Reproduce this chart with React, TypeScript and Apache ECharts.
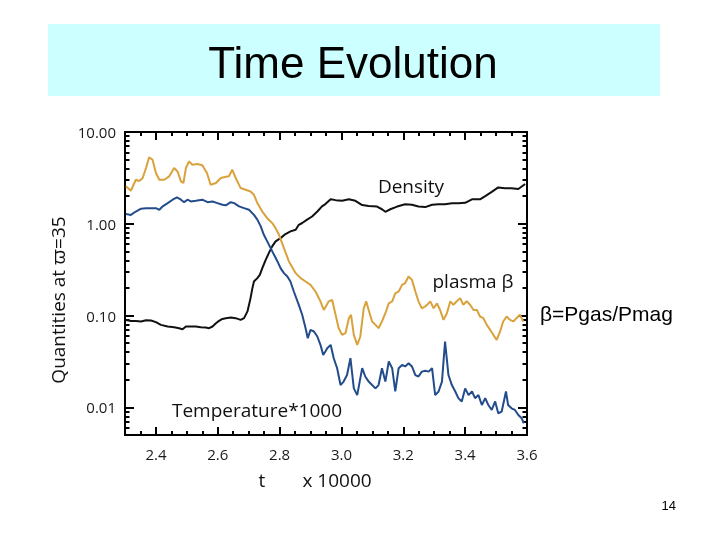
import React, { useEffect, useRef } from 'react';
import * as echarts from 'echarts';

// t in units of 10000
const density: [number, number][] = [
  [2.303, 0.0897], [2.319, 0.0875], [2.335, 0.0875], [2.352, 0.0863], [2.368, 0.0891], [2.384, 0.0885],
  [2.4, 0.0848], [2.416, 0.0792], [2.438, 0.076], [2.459, 0.0747], [2.475, 0.0729], [2.486, 0.0711],
  [2.497, 0.076], [2.513, 0.076], [2.529, 0.076], [2.545, 0.0747], [2.561, 0.0741], [2.572, 0.0729],
  [2.583, 0.076], [2.594, 0.0826], [2.604, 0.0875], [2.615, 0.092], [2.626, 0.0937], [2.642, 0.0953],
  [2.658, 0.0937], [2.674, 0.0897], [2.685, 0.0937], [2.696, 0.111], [2.706, 0.155], [2.712, 0.199],
  [2.717, 0.235], [2.728, 0.256], [2.736, 0.278], [2.744, 0.329], [2.755, 0.405], [2.765, 0.479],
  [2.776, 0.567], [2.787, 0.643], [2.803, 0.698], [2.819, 0.773], [2.835, 0.826], [2.852, 0.861],
  [2.862, 0.975], [2.873, 1.02], [2.889, 1.11], [2.905, 1.2], [2.922, 1.36], [2.937, 1.55],
  [2.948, 1.64], [2.965, 1.85], [2.981, 1.81], [3.002, 1.78], [3.024, 1.85], [3.045, 1.78],
  [3.067, 1.6], [3.088, 1.56], [3.115, 1.54], [3.131, 1.44], [3.142, 1.35], [3.158, 1.44],
  [3.18, 1.54], [3.206, 1.63], [3.228, 1.61], [3.249, 1.54], [3.271, 1.52], [3.293, 1.61],
  [3.314, 1.63], [3.335, 1.63], [3.357, 1.67], [3.378, 1.67], [3.4, 1.69], [3.422, 1.85],
  [3.448, 1.85], [3.465, 2.0], [3.486, 2.23], [3.507, 2.49], [3.529, 2.44], [3.55, 2.44],
  [3.572, 2.39], [3.594, 2.71],
];

const plasmaBeta: [number, number][] = [
  [2.303, 2.56], [2.319, 2.29], [2.335, 3.02], [2.346, 2.92], [2.357, 3.15], [2.368, 4.05],
  [2.378, 5.3], [2.389, 4.99], [2.4, 3.57], [2.411, 3.02], [2.427, 3.02], [2.443, 3.29],
  [2.459, 4.05], [2.47, 3.72], [2.481, 2.9], [2.489, 2.78], [2.497, 4.05], [2.507, 4.79],
  [2.518, 4.4], [2.534, 4.48], [2.55, 4.34], [2.565, 3.57], [2.577, 2.66], [2.594, 2.78],
  [2.61, 3.15], [2.626, 3.25], [2.636, 3.29], [2.647, 3.88], [2.658, 3.15], [2.674, 2.45],
  [2.69, 2.35], [2.706, 2.25], [2.717, 2.07], [2.728, 1.68], [2.744, 1.36], [2.76, 1.15],
  [2.776, 1.02], [2.787, 0.897], [2.798, 0.759], [2.814, 0.543], [2.83, 0.389], [2.852, 0.29],
  [2.868, 0.256], [2.884, 0.235], [2.9, 0.216], [2.916, 0.183], [2.932, 0.143], [2.943, 0.115],
  [2.959, 0.143], [2.97, 0.148], [2.981, 0.102], [2.991, 0.0729], [3.002, 0.0617], [3.013, 0.0643],
  [3.024, 0.0937], [3.031, 0.102], [3.04, 0.0617], [3.051, 0.048], [3.061, 0.0592], [3.072, 0.12],
  [3.08, 0.143], [3.088, 0.115], [3.099, 0.0863], [3.11, 0.0792], [3.12, 0.0729], [3.131, 0.0863],
  [3.142, 0.106], [3.153, 0.136], [3.164, 0.143], [3.174, 0.175], [3.185, 0.183], [3.196, 0.216],
  [3.206, 0.226], [3.217, 0.267], [3.228, 0.245], [3.239, 0.183], [3.249, 0.143], [3.26, 0.12],
  [3.271, 0.126], [3.277, 0.131], [3.287, 0.143], [3.298, 0.12], [3.309, 0.136], [3.319, 0.115],
  [3.33, 0.0897], [3.341, 0.106], [3.352, 0.143], [3.362, 0.131], [3.373, 0.143], [3.384, 0.155],
  [3.394, 0.131], [3.405, 0.143], [3.416, 0.131], [3.427, 0.115], [3.438, 0.115], [3.448, 0.0977],
  [3.459, 0.0937], [3.47, 0.0792], [3.481, 0.0698], [3.491, 0.0617], [3.502, 0.0543], [3.513, 0.0671],
  [3.523, 0.0863], [3.534, 0.0977], [3.545, 0.0897], [3.556, 0.0863], [3.566, 0.0937], [3.577, 0.102],
  [3.588, 0.0863],
];

const temperature: [number, number][] = [
  [2.303, 1.28], [2.319, 1.25], [2.335, 1.36], [2.352, 1.46], [2.368, 1.48], [2.384, 1.48],
  [2.4, 1.48], [2.411, 1.42], [2.422, 1.55], [2.438, 1.68], [2.454, 1.83], [2.468, 1.94],
  [2.481, 1.83], [2.491, 1.72], [2.502, 1.83], [2.513, 1.75], [2.529, 1.78], [2.55, 1.83],
  [2.567, 1.72], [2.583, 1.75], [2.599, 1.68], [2.615, 1.61], [2.626, 1.59], [2.642, 1.72],
  [2.653, 1.68], [2.669, 1.55], [2.685, 1.48], [2.701, 1.42], [2.717, 1.25], [2.728, 1.11],
  [2.739, 0.937], [2.749, 0.759], [2.76, 0.643], [2.771, 0.543], [2.782, 0.459], [2.793, 0.389],
  [2.803, 0.329], [2.814, 0.29], [2.825, 0.267], [2.835, 0.235], [2.846, 0.183], [2.862, 0.131],
  [2.873, 0.102], [2.884, 0.0729], [2.891, 0.0567], [2.9, 0.0698], [2.911, 0.0671], [2.922, 0.0592],
  [2.932, 0.048], [2.941, 0.0373], [2.948, 0.0406], [2.954, 0.0441], [2.965, 0.048], [2.975, 0.0343],
  [2.986, 0.0267], [2.997, 0.0175], [3.007, 0.0191], [3.018, 0.0225], [3.029, 0.0343], [3.04, 0.0161],
  [3.051, 0.0136], [3.059, 0.0191], [3.067, 0.0267], [3.077, 0.0217], [3.088, 0.0191], [3.099, 0.0175],
  [3.11, 0.0161], [3.12, 0.0175], [3.131, 0.0267], [3.142, 0.0191], [3.153, 0.0316], [3.164, 0.0267],
  [3.174, 0.0149], [3.185, 0.0267], [3.196, 0.029], [3.206, 0.0279], [3.217, 0.0303], [3.228, 0.0279],
  [3.239, 0.0225], [3.249, 0.0217], [3.26, 0.0245], [3.271, 0.025], [3.282, 0.0245], [3.293, 0.0267],
  [3.303, 0.0136], [3.314, 0.0149], [3.325, 0.0191], [3.335, 0.0521], [3.346, 0.0225], [3.357, 0.0175],
  [3.368, 0.0149], [3.378, 0.0126], [3.389, 0.0116], [3.4, 0.0161], [3.411, 0.0136], [3.422, 0.0149],
  [3.432, 0.0126], [3.443, 0.0136], [3.454, 0.0106], [3.465, 0.0126], [3.475, 0.0106], [3.486, 0.00937],
  [3.497, 0.0116], [3.507, 0.00863], [3.518, 0.00897], [3.532, 0.0149], [3.539, 0.0106], [3.55, 0.00977],
  [3.561, 0.00937], [3.572, 0.00826], [3.583, 0.0076], [3.59, 0.00671],
];

const xMajorTicks = [2.4, 2.6, 2.8, 3.0, 3.2, 3.4, 3.6];
const xMinorStep = 0.05;
const yMajorTicks = [0.01, 0.1, 1, 10];
const yMinorTicks = [
  0.006, 0.007, 0.008, 0.009,
  0.02, 0.03, 0.04, 0.05, 0.06, 0.07, 0.08, 0.09,
  0.2, 0.3, 0.4, 0.5, 0.6, 0.7, 0.8, 0.9,
  2, 3, 4, 5, 6, 7, 8, 9,
];

const X_MIN = 2.3;
const X_MAX = 3.6;
const Y_MIN = 0.005;
const Y_MAX = 10;

const plotFont = '"Open Sans", "DejaVu Sans", sans-serif';
const slideFont = '"Liberation Sans", Arial, sans-serif';
const tickColor = '#000';

function xAxis(position: 'top' | 'bottom', major: boolean, labels: boolean) {
  return {
    type: 'value',
    position,
    min: X_MIN,
    max: X_MAX,
    ...(major ? {} : { interval: xMinorStep }),
    axisLine: { show: true, lineStyle: { color: '#000', width: 2 } },
    axisTick: {
      show: true,
      inside: true,
      length: major ? 8 : 4,
      lineStyle: { color: tickColor, width: 2 },
      ...(major ? { customValues: xMajorTicks } : {}),
    },
    axisLabel: labels
      ? {
          customValues: xMajorTicks,
          formatter: (v: number) => v.toFixed(1),
          margin: 11,
          fontSize: 15,
          color: '#1a1a1a',
          fontFamily: plotFont,
        }
      : { show: false },
    splitLine: { show: false },
  };
}

function yAxis(position: 'left' | 'right', major: boolean, labels: boolean) {
  return {
    type: 'log',
    position,
    min: Y_MIN,
    max: Y_MAX,
    axisLine: { show: true, lineStyle: { color: '#000', width: 2 } },
    axisTick: {
      show: true,
      inside: true,
      length: major ? 9 : 4.5,
      lineStyle: { color: tickColor, width: 2 },
      customValues: major ? yMajorTicks : yMinorTicks,
    },
    axisLabel: labels
      ? {
          customValues: yMajorTicks,
          formatter: (v: number) => v.toFixed(2),
          margin: 9,
          fontSize: 15,
          color: '#1a1a1a',
          fontFamily: plotFont,
        }
      : { show: false },
    splitLine: { show: false },
  };
}

function label(text: string, x: number, y: number, extra: Record<string, unknown> = {}, rotation = 0) {
  return {
    type: 'text',
    x,
    y,
    rotation,
    style: {
      text,
      fill: '#111',
      font: `19px ${plotFont}`,
      textAlign: 'center',
      textVerticalAlign: 'middle',
      ...extra,
    },
  };
}

const App: React.FC = () => {
  const chartRef = useRef<HTMLDivElement>(null);

  useEffect(() => {
    if (!chartRef.current) return;
    const chart = echarts.init(chartRef.current, undefined, { renderer: 'svg' });

    chart.setOption({
      animation: false,
      grid: { left: 125, top: 132, width: 402, height: 303 },
      xAxis: [
        xAxis('bottom', true, true),
        xAxis('bottom', false, false),
        xAxis('top', true, false),
        xAxis('top', false, false),
      ],
      yAxis: [
        yAxis('left', true, true),
        yAxis('left', false, false),
        yAxis('right', true, false),
        yAxis('right', false, false),
      ],
      series: [
        {
          name: 'Density',
          type: 'line',
          data: density,
          showSymbol: false,
          lineStyle: { color: '#111111', width: 2 },
        },
        {
          name: 'plasma β',
          type: 'line',
          data: plasmaBeta,
          showSymbol: false,
          lineStyle: { color: '#d9a23c', width: 2 },
        },
        {
          name: 'Temperature*1000',
          type: 'line',
          data: temperature,
          showSymbol: false,
          lineStyle: { color: '#234c8c', width: 2 },
        },
      ],
      graphic: [
        {
          type: 'rect',
          shape: { x: 48, y: 24, width: 612, height: 72 },
          style: { fill: '#ccffff' },
        },
        label('Time Evolution', 353, 62, { font: `44px ${slideFont}`, fill: '#000' }),
        label('Quantities at ϖ=35', 58, 300, {}, Math.PI / 2),
        label('t', 262, 480),
        label('x 10000', 337, 480),
        label('Density', 411, 186),
        label('plasma β', 473, 281),
        label('Temperature*1000', 257, 410),
        label('β=Pgas/Pmag', 540, 313, { font: `21px ${slideFont}`, textAlign: 'left', fill: '#000' }),
        label('14', 676, 505, { font: `13px ${slideFont}`, textAlign: 'right', fill: '#000' }),
      ],
    });

    return () => {
      chart.dispose();
    };
  }, []);

  return (
    <div
      ref={chartRef}
      style={{ position: 'fixed', left: 0, top: 0, width: 720, height: 540 }}
    />
  );
};

export default App;
